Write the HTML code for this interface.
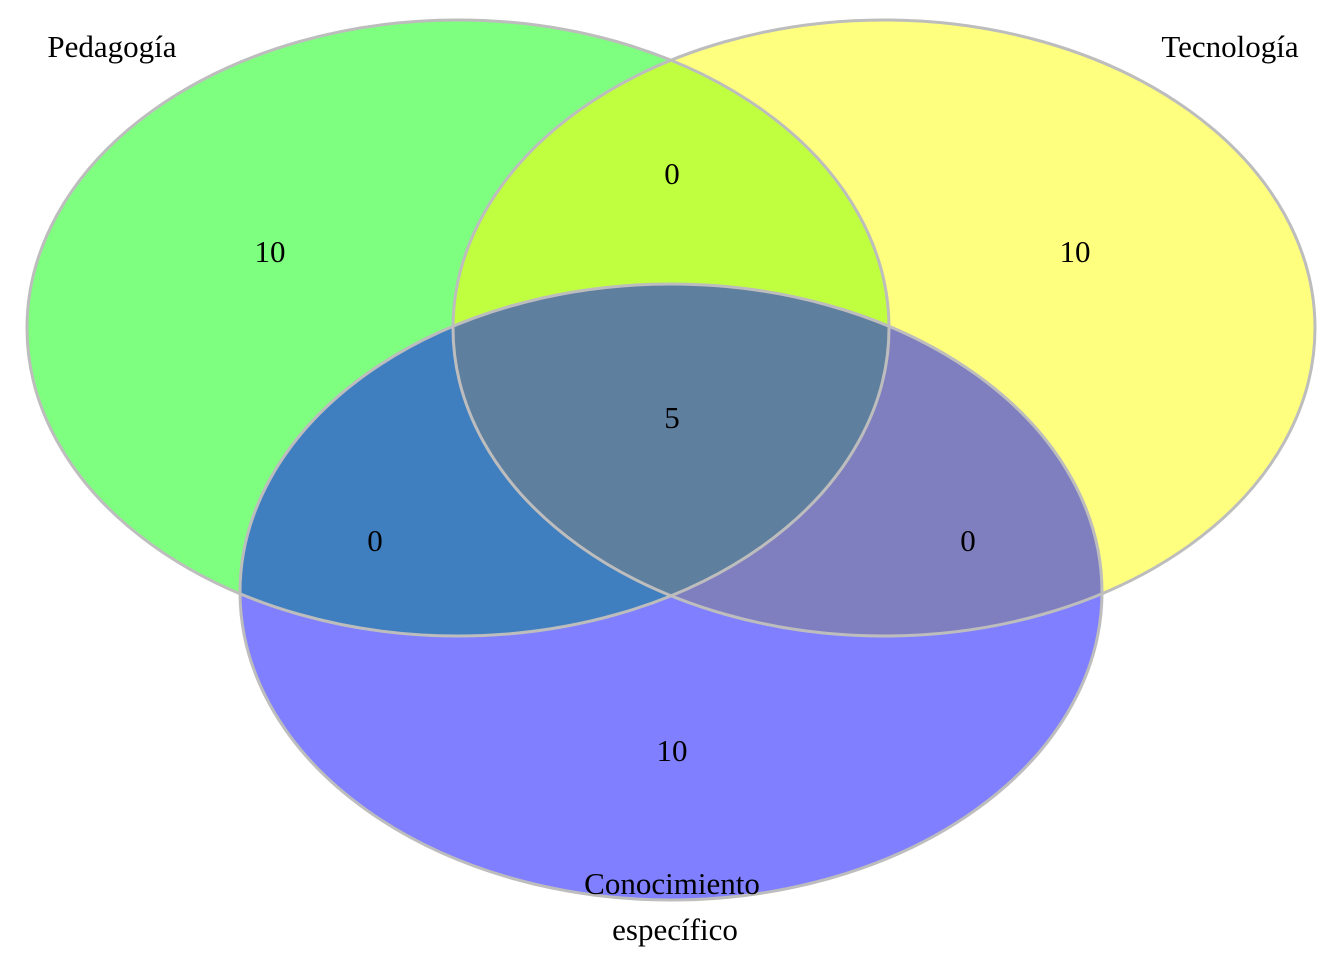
<!DOCTYPE html>
<html><head><meta charset="utf-8"><style>
html,body{margin:0;padding:0;background:#fff;}
svg{display:block;}
text{font-family:"Liberation Serif",serif;font-size:31px;fill:#000;}
</style></head><body>
<svg width="1344" height="960" viewBox="0 0 1344 960" xmlns="http://www.w3.org/2000/svg">
<ellipse cx="458" cy="328" rx="431" ry="308" fill="#00ff00" fill-opacity="0.5"/>
<ellipse cx="884" cy="328" rx="431" ry="308" fill="#ffff00" fill-opacity="0.5"/>
<ellipse cx="671" cy="592" rx="431" ry="308" fill="#0000ff" fill-opacity="0.5"/>
<g fill="none" stroke="#bdbdbd" stroke-width="3">
<ellipse cx="458" cy="328" rx="431" ry="308"/>
<ellipse cx="884" cy="328" rx="431" ry="308"/>
<ellipse cx="671" cy="592" rx="431" ry="308"/>
</g>
<g text-anchor="middle">
<text x="112" y="57">Pedagogía</text>
<text x="1230" y="57">Tecnología</text>
<text x="270" y="262">10</text>
<text x="672" y="184">0</text>
<text x="1075" y="262">10</text>
<text x="672" y="428">5</text>
<text x="375" y="551">0</text>
<text x="968" y="551">0</text>
<text x="672" y="761">10</text>
<text x="672" y="894">Conocimiento</text>
<text x="675" y="940">específico</text>
</g>
</svg>
</body></html>
